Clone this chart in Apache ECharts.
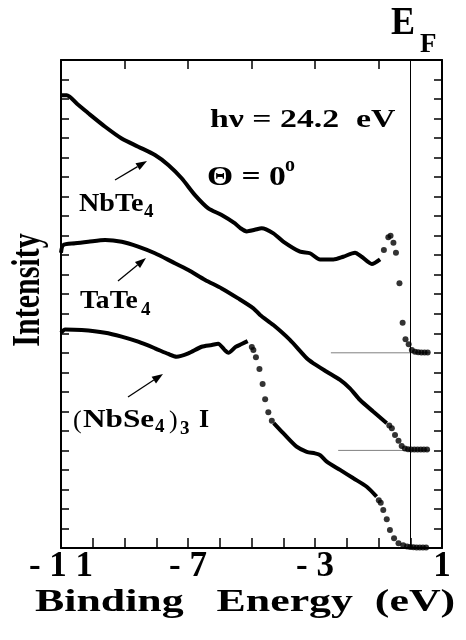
<!DOCTYPE html>
<html>
<head>
<meta charset="utf-8">
<script src="https://cdn.jsdelivr.net/npm/echarts@6/dist/echarts.min.js"></script>
<style>html,body{margin:0;padding:0;background:#fff}#chart{width:466px;height:640px}</style>
</head>
<body>
<div id="chart"></div>
<script>
// binding energy (eV), intensity (offset spectra, arb. units)
const nbte4Line = [[-11.0,23.2],[-10.82,23.2],[-10.45,22.69],[-10.14,22.27],[-9.61,21.58],[-9.09,20.98],[-8.57,20.56],[-8.04,20.13],[-7.62,19.62],[-7.2,18.94],[-6.78,18.08],[-6.36,17.4],[-5.94,17.06],[-5.52,16.63],[-5.36,16.4],[-5.15,16.22],[-4.9,16.3],[-4.68,16.38],[-4.31,16.12],[-4.0,15.7],[-3.47,15.18],[-3.16,15.1],[-2.84,14.78],[-2.42,14.78],[-2.11,14.92],[-1.74,15.13],[-1.53,14.92],[-1.21,14.55],[-0.95,14.79]];
const nbte4Dots = [[-0.83,15.27],[-0.69,15.92],[-0.62,16.0],[-0.53,15.64],[-0.45,15.13],[-0.34,13.56],[-0.24,11.54],[-0.15,10.7],[-0.05,10.44],[0.05,10.14],[0.15,10.06],[0.25,10.03],[0.35,10.02],[0.45,10.02],[0.55,10.02]];

const tate4Line = [[-11.0,15.13],[-10.93,15.52],[-10.56,15.61],[-10.14,15.69],[-9.61,15.78],[-9.09,15.69],[-8.57,15.44],[-8.04,15.1],[-7.51,14.67],[-6.99,14.24],[-6.46,13.73],[-5.94,13.3],[-5.42,12.79],[-4.94,12.28],[-4.73,11.94],[-4.31,11.42],[-3.79,10.66],[-3.26,9.72],[-3.05,9.46],[-2.63,9.03],[-2.21,8.61],[-1.9,8.18],[-1.58,7.58],[-1.16,6.98],[-0.74,6.39]];
const tate4Dots = [[-0.66,6.27],[-0.58,6.13],[-0.48,5.79],[-0.37,5.5],[-0.27,5.23],[-0.17,5.1],[-0.07,5.06],[0.03,5.05],[0.13,5.05],[0.23,5.05],[0.33,5.05],[0.43,5.05],[0.53,5.05]];

const nbse4Upper = [[-11.0,11.03],[-10.87,11.2],[-10.35,11.17],[-9.61,11.03],[-9.09,10.83],[-8.57,10.57],[-8.04,10.23],[-7.62,9.94],[-7.36,9.8],[-6.99,9.97],[-6.57,10.31],[-6.25,10.4],[-6.05,10.47],[-5.85,10.15],[-5.73,10.0],[-5.5,10.3],[-5.31,10.45],[-5.12,10.6]];
const nbse4Edge = [[-4.99,10.3],[-4.94,10.14],[-4.86,9.77],[-4.75,9.17],[-4.65,8.4],[-4.57,7.62],[-4.47,6.95],[-4.36,6.52]];
const nbse4Lower = [[-4.3,6.4],[-4.0,5.88],[-3.58,5.19],[-3.26,4.93],[-3.0,4.85],[-2.84,4.76],[-2.63,4.42],[-2.21,4.0],[-1.79,3.57],[-1.37,3.14],[-1.06,2.63]];
const nbse4Dots = [[-0.99,2.45],[-0.93,2.32],[-0.85,1.95],[-0.74,1.47],[-0.64,0.92],[-0.51,0.5],[-0.37,0.24],[-0.22,0.14],[-0.1,0.08],[0.0,0.05],[0.1,0.04],[0.2,0.03],[0.3,0.03],[0.4,0.03],[0.5,0.03]];

// zero lines of the two upper spectra
const baseLevels = [10, 5];
const baseStarts = [-2.5, -2.27];
const baseEnd = 0.62;
const efEnergy = 0;

const xLabelValues = [-11, -7, -3, 1];
const xLabelTexts = ['- 1 1', '- 7', '- 3', '1'];

const SERIF = '"Liberation Serif", "DejaVu Serif", serif';

const txt = (x, y, s, size, extra) => Object.assign({
    type: 'text', x, y,
    style: { text: s, font: 'bold ' + size + 'px ' + SERIF, fill: '#000', align: 'left', verticalAlign: 'middle' }
}, extra || {});

const arrow = (x1, y1, x2, y2) => {
    const a = Math.atan2(y2 - y1, x2 - x1), L = 11, W = 4;
    const bx = x2 - L * Math.cos(a), by = y2 - L * Math.sin(a);
    const px = -Math.sin(a) * W, py = Math.cos(a) * W;
    return [
        { type: 'line', shape: { x1, y1, x2: bx, y2: by }, style: { stroke: '#000', lineWidth: 1.3 } },
        { type: 'polygon', shape: { points: [[x2, y2], [bx + px, by + py], [bx - px, by - py]] }, style: { fill: '#000' } }
    ];
};

const lineSeries = (data) => ({
    type: 'line', data, showSymbol: false, smooth: 0.25,
    lineStyle: { color: '#000', width: 4 }, z: 3
});
const dotSeries = (data) => ({
    type: 'scatter', data, symbol: 'circle', symbolSize: 6,
    itemStyle: { color: '#000' }, z: 3
});

const axisBase = {
    type: 'value', min: -11, max: 1,
    axisLine: { show: true, onZero: false, lineStyle: { color: '#000', width: 2 } },
    splitLine: { show: false }
};
const yBase = {
    type: 'value', min: 0, max: 25, interval: 1,
    axisLine: { show: true, onZero: false, lineStyle: { color: '#000', width: 2 } },
    axisTick: { show: true, inside: true, length: 8, lineStyle: { color: '#000', width: 1.5 } },
    axisLabel: { show: false },
    splitLine: { show: false }
};

const series = [
    lineSeries(nbte4Line), dotSeries(nbte4Dots),
    lineSeries(tate4Line), dotSeries(tate4Dots),
    lineSeries(nbse4Upper), dotSeries(nbse4Edge),
    lineSeries(nbse4Lower), dotSeries(nbse4Dots)
];
baseLevels.forEach((lv, i) => {
    series.push({
        type: 'line', data: [[baseStarts[i], lv], [baseEnd, lv]], showSymbol: false,
        lineStyle: { color: '#808080', width: 1 }, z: 2
    });
});
series[0].markLine = {
    silent: true, symbol: 'none', label: { show: false },
    lineStyle: { color: '#000', width: 1, type: 'solid' },
    data: [{ xAxis: efEnergy }]
};

const chart = echarts.init(document.getElementById('chart'), null, { renderer: 'canvas' });
chart.setOption({
    animation: false,
    backgroundColor: '#fff',
    grid: { left: 61, right: 24, top: 60, bottom: 92, containLabel: false },
    xAxis: [
        Object.assign({}, axisBase, {
            position: 'bottom', interval: 1,
            axisTick: { show: true, inside: true, length: 10, lineStyle: { color: '#000', width: 1.5 } },
            axisLabel: {
                show: true, margin: 1, showMinLabel: true, showMaxLabel: true,
                color: '#000', fontFamily: SERIF, fontWeight: 'bold', fontSize: 35,
                formatter: v => {
                    const i = xLabelValues.indexOf(Math.round(v));
                    return i >= 0 ? xLabelTexts[i] : '';
                }
            }
        }),
        Object.assign({}, axisBase, {
            position: 'top', interval: 2,
            axisTick: { show: true, inside: true, length: 9, lineStyle: { color: '#000', width: 1.5 } },
            axisLabel: { show: false }
        })
    ],
    yAxis: [
        Object.assign({}, yBase, { position: 'left' }),
        Object.assign({}, yBase, { position: 'right' })
    ],
    series,
    graphic: {
        elements: [
            txt(391, 23, 'E', 41, { scaleX: 0.88 }),
            txt(420, 45, 'F', 27),
            txt(210, 120, 'hν = 24.2  eV', 26, { scaleX: 1.3 }),
            txt(207, 178, 'Θ = 0', 28, { scaleX: 1.2 }),
            txt(285, 166, 'o', 20),
            txt(79, 204, 'NbTe', 26, { scaleX: 1.08 }),
            txt(144, 212, '4', 19),
            txt(80, 301, 'TaTe', 26, { scaleX: 1.06 }),
            txt(141, 310, '4', 19),
            {
                type: 'text', x: 73, y: 421,
                style: { text: '(', font: '26px ' + SERIF, fill: '#000', align: 'left', verticalAlign: 'middle' }
            },
            txt(83, 420, 'NbSe', 26, { scaleX: 1.2 }),
            txt(155, 427, '4', 19),
            {
                type: 'text', x: 169, y: 421,
                style: { text: ')', font: '26px ' + SERIF, fill: '#000', align: 'left', verticalAlign: 'middle' }
            },
            txt(180, 429, '3', 19),
            txt(199, 420, 'I', 26),
            {
                type: 'text', x: 29, y: 290, rotation: Math.PI / 2, scaleY: 1.35,
                style: { text: 'Intensity', font: 'bold 30px ' + SERIF, fill: '#000', align: 'center', verticalAlign: 'middle' }
            },
            txt(35, 603, 'Binding   Energy  (eV)', 32, { scaleX: 1.37 })
        ].concat(arrow(115, 180, 147, 161), arrow(118, 281, 146, 258), arrow(128, 397, 163, 374))
    }
});
</script>
</body>
</html>
